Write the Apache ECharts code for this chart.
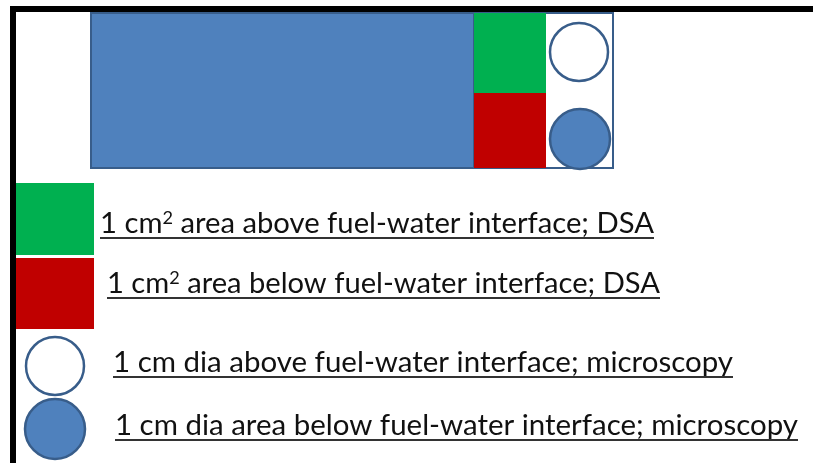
<!DOCTYPE html>
<html>
<head>
<meta charset="utf-8">
<script src="https://cdn.jsdelivr.net/npm/echarts@6/dist/echarts.min.js"></script>
<style>
html, body { margin: 0; padding: 0; background: #fff; }
#main { width: 813px; height: 463px; }
</style>
</head>
<body>
<div id="main"></div>
<script>
// sketch units: x 0..813 left to right, y 0..463 top down
var frameX = [13, 13, 813];
var frameY = [463, 9, 9];

var rectNames = ['outer', 'fuel', 'dsaAbove', 'dsaBelow', 'keyAbove', 'keyBelow'];
var rectLeft = [91, 91, 474, 474, 16, 16];
var rectTop = [13, 13, 13, 93, 183, 258];
var rectRight = [613, 474, 546, 546, 94, 94];
var rectBottom = [168, 168, 93, 168, 255, 329];

var circleNames = ['microAbove', 'microBelow', 'keyMicroAbove', 'keyMicroBelow'];
var circleX = [579, 580, 55, 55];
var circleY = [52, 139, 366, 429];
var circleR = [29, 30, 29, 30];

// {s|..} marks superscript
var labels = [
  '1 cm{s|2} area above fuel-water interface; DSA',
  '1 cm{s|2} area below fuel-water interface; DSA',
  '1 cm dia above fuel-water interface; microscopy',
  '1 cm dia area below fuel-water interface; microscopy'
];
var labelX = [100, 107, 113, 115];
var labelBase = [234, 294, 373, 436];
var labelEnd = [654, 660, 733, 798];

var BLUE = '#4F81BD', EDGE = '#385D8A';
var rectStyle = {
  outer: { fill: '#fff', stroke: EDGE, lw: 2 },
  fuel: { fill: BLUE, stroke: EDGE, lw: 2 },
  dsaAbove: { fill: '#00B050' },
  dsaBelow: { fill: '#C00000' },
  keyAbove: { fill: '#00B050' },
  keyBelow: { fill: '#C00000' }
};
var circleFill = { microAbove: '#fff', microBelow: BLUE, keyMicroAbove: '#fff', keyMicroBelow: BLUE };

var FONT_SIZE = 29;
var SUP_SIZE = 18;
var FAMILY = 'Lato, "Open Sans", sans-serif';
var FONT = FONT_SIZE + 'px ' + FAMILY;
var SUP_FONT = SUP_SIZE + 'px ' + FAMILY;
var ctx = document.createElement('canvas').getContext('2d');

function measure(t) {
  var w = 0;
  t.split(/(\{s\|[^}]*\})/).forEach(function (part) {
    var m = part.match(/^\{s\|([^}]*)\}$/);
    ctx.font = m ? SUP_FONT : FONT;
    w += ctx.measureText(m ? m[1] : part).width;
  });
  return w;
}

var myChart = echarts.init(document.getElementById('main'));

var option = {
  animation: false,
  grid: { left: 0, right: 0, top: 0, bottom: 0 },
  xAxis: { type: 'value', min: 0, max: 813, show: false },
  yAxis: { type: 'value', min: 0, max: 463, inverse: true, show: false },
  series: [
    {
      type: 'custom',
      name: 'frame',
      silent: true,
      data: [0],
      renderItem: function (params, api) {
        var pts = frameX.map(function (x, i) { return api.coord([x, frameY[i]]); });
        return { type: 'polyline', shape: { points: pts }, style: { stroke: '#000', lineWidth: 6, fill: null } };
      }
    },
    {
      type: 'custom',
      name: 'rects',
      silent: true,
      data: rectNames.map(function (n, i) { return [i, rectLeft[i], rectTop[i], rectRight[i], rectBottom[i]]; }),
      renderItem: function (params, api) {
        var p0 = api.coord([api.value(1), api.value(2)]);
        var p1 = api.coord([api.value(3), api.value(4)]);
        var st = rectStyle[rectNames[params.dataIndex]];
        return {
          type: 'rect',
          shape: { x: p0[0], y: p0[1], width: p1[0] - p0[0], height: p1[1] - p0[1] },
          style: { fill: st.fill, stroke: st.stroke || null, lineWidth: st.lw || 0 }
        };
      }
    },
    {
      type: 'custom',
      name: 'circles',
      silent: true,
      data: circleNames.map(function (n, i) { return [circleX[i], circleY[i], circleR[i]]; }),
      renderItem: function (params, api) {
        var c = api.coord([api.value(0), api.value(1)]);
        var r = api.size([api.value(2), 0])[0];
        return {
          type: 'circle',
          shape: { cx: c[0], cy: c[1], r: r },
          style: { fill: circleFill[circleNames[params.dataIndex]], stroke: EDGE, lineWidth: 2.5 }
        };
      }
    },
    {
      type: 'custom',
      name: 'labels',
      silent: true,
      data: labels.map(function (t, i) { return [labelX[i], labelBase[i], labelEnd[i]]; }),
      renderItem: function (params, api) {
        var text = labels[params.dataIndex];
        var a = api.coord([api.value(0), api.value(1)]);
        var b = api.coord([api.value(2), api.value(1)]);
        var sx = (b[0] - a[0]) / measure(text);
        return {
          type: 'group',
          children: [
            {
              type: 'text',
              x: a[0],
              y: a[1] - FONT_SIZE * 0.34,
              scaleX: sx,
              style: {
                text: text, font: FONT, fill: '#111', verticalAlign: 'middle', align: 'left',
                lineHeight: FONT_SIZE,
                rich: { s: { font: SUP_FONT, fill: '#111', lineHeight: 18, verticalAlign: 'top' } }
              }
            },
            {
              type: 'line',
              shape: { x1: a[0], y1: a[1] + 4, x2: b[0], y2: a[1] + 4 },
              style: { stroke: '#333', lineWidth: 2 }
            }
          ]
        };
      }
    }
  ]
};
myChart.setOption(option);
</script>
</body>
</html>
